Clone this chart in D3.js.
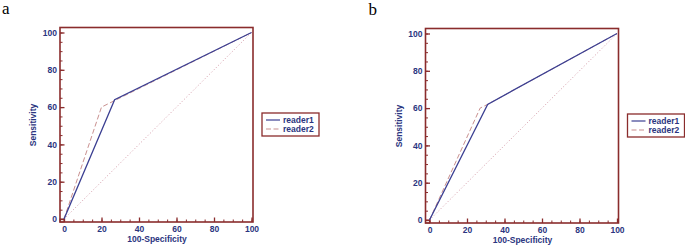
<!DOCTYPE html>
<meta charset="utf-8">
<body style="margin:0;background:#fff">
<svg width="685" height="246"></svg>
<script src="https://d3js.org/d3.v7.min.js"></script>
<script>
// values
const ticks = [0, 20, 40, 60, 80, 100];
const seriesNames = ["reader1", "reader2"];
const panelLabels = ["a", "b"];
const aReader1 = [[0, 0], [27, 64], [100, 100]];
const aReader2 = [[0, 0], [20, 60], [100, 100]];
const bReader1 = [[0, 0], [31, 62], [100, 100]];
const bReader2 = [[0, 0], [27, 60], [31, 62], [100, 100]];
const chance = [[0, 0], [100, 100]];

const frameCol = "#8a2c2c", textCol = "#2b3580";
const lineCols = ["#3b3f92", "#c9908f"];
const svg = d3.select("svg");

function panel(dx, dy, label, r1, r2) {
  const g = svg.append("g").attr("transform", `translate(${dx},${dy})`);
  const x = d3.scaleLinear().domain([0, 100]).range([64, 251.5]);
  const y = d3.scaleLinear().domain([0, 100]).range([219, 32.5]);
  const fl = 60, fr = 253, ft = 27.5, fb = 222;

  g.append("text").attr("x", dx > 0 ? 3 : 2).attr("y", 14)
    .attr("font-family", "Liberation Serif, serif").attr("font-size", 17)
    .text(label);

  // minor ticks
  const minor = d3.range(0, 101, 5);
  g.append("g").attr("transform", `translate(${fl},0)`)
    .call(d3.axisLeft(y).tickValues(minor).tickSize(-2.5).tickFormat(""))
    .call(a => a.select(".domain").remove())
    .selectAll("line").attr("stroke", frameCol);
  g.append("g").attr("transform", `translate(0,${fb})`)
    .call(d3.axisBottom(x).tickValues(minor).tickSize(-2.5).tickFormat(""))
    .call(a => a.select(".domain").remove())
    .selectAll("line").attr("stroke", frameCol);

  // major ticks + labels
  const ya = g.append("g").attr("transform", `translate(${fl},0)`)
    .call(d3.axisLeft(y).tickValues(ticks).tickSize(-4.5).tickPadding(3));
  const xa = g.append("g").attr("transform", `translate(0,${fb})`)
    .call(d3.axisBottom(x).tickValues(ticks).tickSize(-4.5).tickPadding(4));
  [ya, xa].forEach(a => {
    a.select(".domain").remove();
    a.selectAll("line").attr("stroke", frameCol).attr("stroke-width", 1.3);
    a.selectAll("text").attr("fill", textCol).attr("font-size", 8.5)
      .attr("font-weight", "bold").attr("font-family", "Liberation Sans, Arial, sans-serif");
  });

  g.append("rect").attr("x", fl).attr("y", ft).attr("width", fr - fl).attr("height", fb - ft)
    .attr("fill", "none").attr("stroke", frameCol).attr("stroke-width", 1.6);
  g.append("rect").attr("x", fl).attr("y", y(0)).attr("width", x(0) - fl).attr("height", fb - y(0))
    .attr("fill", "none").attr("stroke", frameCol).attr("stroke-width", 1);

  const line = d3.line().x(d => x(d[0])).y(d => y(d[1]));
  g.append("path").attr("d", line(chance)).attr("fill", "none")
    .attr("stroke", "#d49aa8").attr("stroke-width", 1).attr("stroke-dasharray", "1,2.2");
  g.append("path").attr("d", line(r2)).attr("fill", "none")
    .attr("stroke", lineCols[1]).attr("stroke-width", 1).attr("stroke-dasharray", "5,2.5");
  g.append("path").attr("d", line(r1)).attr("fill", "none")
    .attr("stroke", lineCols[0]).attr("stroke-width", 1.3);

  g.append("text").attr("transform", `translate(36,125) rotate(-90)`)
    .attr("text-anchor", "middle").attr("fill", textCol).attr("font-size", 8.5)
    .attr("font-weight", "bold").attr("font-family", "Liberation Sans, Arial, sans-serif")
    .text("Sensitivity");
  g.append("text").attr("x", 157).attr("y", 242)
    .attr("text-anchor", "middle").attr("fill", textCol).attr("font-size", 8.5)
    .attr("font-weight", "bold").attr("font-family", "Liberation Sans, Arial, sans-serif")
    .text("100-Specificity");

  // legend
  const lg = g.append("g").attr("transform", "translate(262,113)");
  lg.append("rect").attr("width", 57).attr("height", 23)
    .attr("fill", "#fff").attr("stroke", frameCol).attr("stroke-width", 1.3);
  seriesNames.forEach((s, i) => {
    const ly = 7 + i * 9;
    lg.append("line").attr("x1", 4).attr("x2", 18).attr("y1", ly).attr("y2", ly)
      .attr("stroke", lineCols[i]).attr("stroke-width", 1.2)
      .attr("stroke-dasharray", i ? "5,2.5" : null);
    lg.append("text").attr("x", 21).attr("y", ly + 3).attr("fill", textCol)
      .attr("font-size", 8.5).attr("font-weight", "bold")
      .attr("font-family", "Liberation Sans, Arial, sans-serif").text(s);
  });
}

panel(0, 0, panelLabels[0], aReader1, aReader2);
panel(365.5, 1, panelLabels[1], bReader1, bReader2);
</script>
</body>
